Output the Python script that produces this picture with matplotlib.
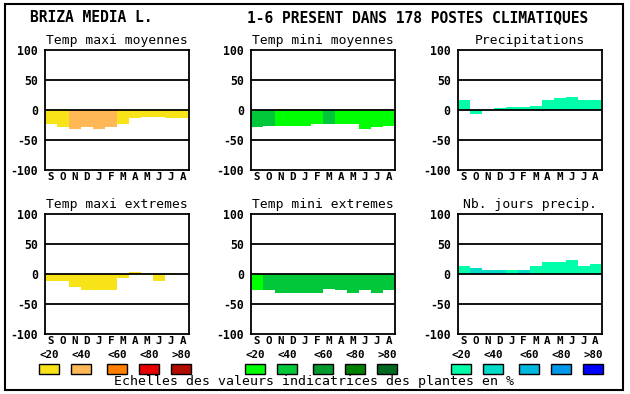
import matplotlib
matplotlib.use("Agg")
import matplotlib.pyplot as plt
import matplotlib.patches as mpatches
import numpy as np

W, H = 630, 394
MONO = "DejaVu Sans Mono"

months = ["S", "O", "N", "D", "J", "F", "M", "A", "M", "J", "J", "A"]
yticks = [100, 50, 0, -50, -100]
class_labels = ["<20", "<40", "<60", "<80", ">80"]

# values (%) and colour class per month
tmax_moy = [-23, -28, -31, -28, -31, -28, -23, -14, -11, -11, -13, -14]
tmax_moy_cls = [0, 0, 1, 1, 1, 1, 0, 0, 0, 0, 0, 0]
tmin_moy = [-28, -26, -26, -26, -26, -24, -23, -24, -24, -31, -28, -26]
tmin_moy_cls = [1, 1, 0, 0, 0, 0, 1, 0, 0, 0, 0, 0]
precip = [16, -6, 0, 4, 5, 5, 7, 17, 20, 22, 16, 16]
precip_cls = [0, 0, 0, 0, 0, 0, 0, 0, 0, 0, 0, 0]
tmax_ext = [-11, -11, -21, -26, -26, -26, -6, 4, -2, -11, 2, 0]
tmax_ext_cls = [0, 0, 0, 0, 0, 0, 0, 0, 0, 0, 0, 0]
tmin_ext = [-26, -27, -31, -31, -31, -32, -24, -27, -31, -27, -32, -27]
tmin_ext_cls = [0, 1, 1, 1, 1, 1, 1, 1, 1, 1, 1, 1]
nb_jours = [13, 11, 7, 7, 7, 7, 14, 21, 21, 24, 14, 17]
nb_jours_cls = [0, 1, 1, 1, 0, 1, 0, 0, 0, 0, 0, 0]

# colour scales
WARM = ["#f8e218", "#ffb855", "#ff8000", "#e80000", "#b00c00"]
GREEN = ["#00ff00", "#00c83a", "#009a2c", "#008000", "#006820"]
WATER = ["#00ffaa", "#00dcc8", "#00b8e0", "#0098e8", "#0000ff"]

panels = [
    ("Temp maxi moyennes", tmax_moy, tmax_moy_cls, WARM, 0, 0),
    ("Temp mini moyennes", tmin_moy, tmin_moy_cls, GREEN, 1, 0),
    ("Precipitations", precip, precip_cls, WATER, 2, 0),
    ("Temp maxi extremes", tmax_ext, tmax_ext_cls, WARM, 0, 1),
    ("Temp mini extremes", tmin_ext, tmin_ext_cls, GREEN, 1, 1),
    ("Nb. jours precip.", nb_jours, nb_jours_cls, WATER, 2, 1),
]

col_x = [45, 251, 457.5]
row_top = [50, 214.3]
AX_W, AX_H = 144, 120

fig = plt.figure(figsize=(W / 100, H / 100), dpi=100)
fig.patch.set_facecolor("white")


def fx(px):
    return px / W


def fy(py):
    return 1 - py / H


for title, vals, cls, scale, c, r in panels:
    ax = fig.add_axes([fx(col_x[c]), fy(row_top[r] + AX_H), AX_W / W, AX_H / H])
    x = np.arange(len(months))
    ax.bar(x, vals, width=1.0, color=[scale[k] for k in cls], linewidth=0, zorder=2)
    for yv in (50, 0, -50):
        ax.axhline(yv, color="black", linewidth=1.3, zorder=3)
    ax.set_xlim(-0.5, 11.5)
    ax.set_ylim(-100, 100)
    ax.set_yticks(yticks)
    ax.set_yticklabels([str(v) for v in yticks], family=MONO, fontweight="bold", fontsize=8.3)
    ax.set_xticks(x)
    ax.set_xticklabels(months, family=MONO, fontweight="bold", fontsize=7.8)
    ax.tick_params(axis="x", length=0, pad=1.5)
    ax.tick_params(axis="y", length=0, pad=5)
    for s in ax.spines.values():
        s.set_linewidth(1.3)
    ax.set_title(title, family=MONO, fontsize=9.4, pad=4.5)

# header and frame
fig.text(fx(30), fy(18), "BRIZA MEDIA L.", family=MONO, fontsize=10.5,
         fontweight="bold", va="center", ha="left")
fig.text(fx(247), fy(18), "1-6 PRESENT DANS 178 POSTES CLIMATIQUES", family=MONO,
         fontsize=10.5, fontweight="bold", va="center", ha="left")
fig.patches.append(mpatches.Rectangle((fx(5), fy(390)), fx(618), 386 / H,
                                      transform=fig.transFigure, fill=False,
                                      edgecolor="black", linewidth=1.5))

# colour legends under the bottom row
box_x = [
    [39.3, 71.3, 107.3, 139.3, 171.3],
    [245.3, 277.3, 313.3, 345.3, 377.3],
    [451.3, 483.3, 519.3, 551.3, 583.3],
]
for scale, xs in zip([WARM, GREEN, WATER], box_x):
    for col, lab, bx in zip(scale, class_labels, xs):
        fig.patches.append(mpatches.Rectangle((fx(bx), fy(373.5)), 20 / W, 9.5 / H,
                                              transform=fig.transFigure,
                                              facecolor=col, edgecolor="black",
                                              linewidth=1.0))
        fig.text(fx(bx + 10), fy(354.5), lab, family=MONO, fontsize=7.8,
                 fontweight="bold", ha="center", va="center")

fig.text(fx(314), fy(382), "Echelles des valeurs indicatrices des plantes en %",
         family=MONO, fontsize=9.5, ha="center", va="center")

fig.savefig("out.png", dpi=100)
